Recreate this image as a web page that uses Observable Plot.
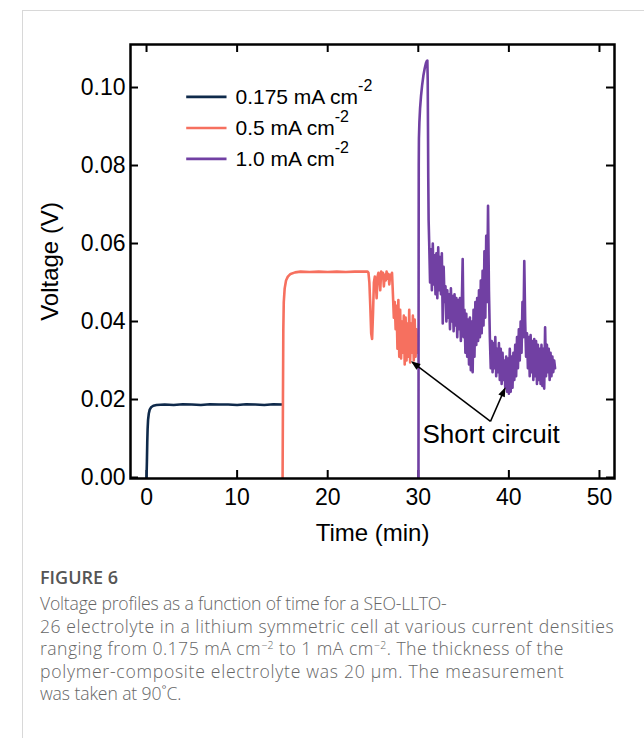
<!DOCTYPE html>
<html><head><meta charset="utf-8">
<script src="https://cdn.jsdelivr.net/npm/d3@7"></script>
<script src="https://cdn.jsdelivr.net/npm/@observablehq/plot@0.6"></script>
<style>
html,body{margin:0;padding:0;background:#fff;}
body{width:644px;height:738px;position:relative;overflow:hidden;font-family:"Liberation Sans",Arial,sans-serif;}
#card{position:absolute;left:22px;top:10px;width:700px;height:760px;border-left:1px solid #d8d8d8;border-top:1px solid #d8d8d8;}
#chart{position:absolute;left:0;top:0;}
#caption{position:absolute;left:40px;top:566px;font-family:"Open Sans",sans-serif;color:#666;white-space:nowrap;}
.fig{font-size:18px;font-weight:600;line-height:22px;margin-bottom:4px;color:#555;}
.txt{font-size:17.6px;line-height:22.5px;font-weight:300;}
.txt span{display:block;}
sup{font-size:10.5px;line-height:0;vertical-align:6px;}
</style></head><body>
<div id="card"></div>
<div id="chart"></div>
<div id="caption">
<div class="fig">FIGURE 6</div>
<div class="txt"><span style="letter-spacing:-0.2px">Voltage profiles as a function of time for a SEO-LLTO-</span><span style="letter-spacing:0.55px">26 electrolyte in a lithium symmetric cell at various current densities</span><span style="letter-spacing:0.47px">ranging from 0.175 mA cm<sup>−2</sup> to 1 mA cm<sup>−2</sup>. The thickness of the</span><span style="letter-spacing:0.72px">polymer-composite electrolyte was 20 µm. The measurement</span><span style="letter-spacing:-0.1px">was taken at 90˚C.</span></div>
</div>
<script>
const seriesNames = ["0.175 mA cm", "0.5 mA cm", "1.0 mA cm"];
const seriesColors = ["#0f2a4b", "#f6705f", "#7140a3"];
const xTicks = [0, 10, 20, 30, 40, 50];
const yTicks = [0, 0.02, 0.04, 0.06, 0.08, 0.10];

// 0.175 mA cm-2
const lowData = [[0,0],[0.04,0.004],[0.08,0.009],[0.12,0.0125],[0.17,0.0148],[0.25,0.0164],[0.35,0.0174],[0.5,0.018],[0.75,0.0184],[1.1,0.0186],[2,0.0187],[3,0.0186],[4,0.0188],[5,0.0187],[6,0.0186],[7,0.0188],[8,0.0187],[9,0.0187],[10,0.0186],[11,0.0188],[12,0.0187],[13,0.0186],[14,0.0188],[15,0.0187]];

// 0.5 mA cm-2
const midData = [[15.02,0],[15.06,0.02],[15.1,0.038],[15.15,0.045],[15.25,0.0485],[15.4,0.0505],[15.6,0.0515],[15.9,0.0522],[16.4,0.0526],[17,0.0528],[18,0.0527],[19,0.0528],[20,0.0527],[21,0.0528],[22,0.0527],[23,0.0528],[24.4,0.0528],
[24.5,0.0525],[24.6,0.050],[24.7,0.044],[24.8,0.037],[24.9,0.0355],[25.0,0.042],[25.1,0.050],[25.2,0.0515],[25.3,0.0505],[25.4,0.046],[25.5,0.0515],[25.6,0.0525],[25.7,0.051],[25.8,0.048],[25.9,0.0528],[26.0,0.0515],[26.1,0.0525],[26.2,0.049],[26.3,0.052],[26.4,0.0505],[26.5,0.0528],[26.6,0.051],[26.7,0.0522],[26.8,0.0495],[26.9,0.052],[27.0,0.0515],[27.1,0.0525],[27.2,0.047],[27.3,0.041],[27.4,0.045],[27.5,0.038],[27.6,0.044],[27.7,0.033],[27.8,0.0455],[27.9,0.031],[28.0,0.043],[28.1,0.0305],[28.2,0.040],[28.3,0.032],[28.4,0.0415],[28.5,0.029],[28.6,0.041],[28.7,0.030],[28.8,0.0395],[28.9,0.031],[29.0,0.043],[29.1,0.0295],[29.2,0.0395],[29.3,0.032],[29.4,0.0415],[29.5,0.030],[29.6,0.0405],[29.7,0.031],[29.8,0.038],[29.9,0.032]];

// 1.0 mA cm-2
const highData = [[30.02,0],[30.03,0.03],[30.04,0.06],[30.05,0.08],[30.07,0.087],[30.12,0.091],[30.2,0.0948],[30.3,0.0978],[30.42,0.1005],[30.56,0.1030],[30.7,0.1048],[30.84,0.1062],[30.94,0.1068],[31.0,0.1069],[31.04,0.102],[31.07,0.09],[31.1,0.077],[31.14,0.066],[31.2,0.0605],
[31.3,0.050],[31.4,0.0585],[31.5,0.048],[31.6,0.0600],[31.7,0.0495],[31.8,0.057],[31.9,0.047],[32.0,0.0575],[32.1,0.046],[32.2,0.059],[32.3,0.048],[32.4,0.0565],[32.5,0.047],[32.6,0.0575],[32.7,0.0395],[32.8,0.054],[32.9,0.045],[33.0,0.049],[33.1,0.040],[33.2,0.048],[33.3,0.041],[33.4,0.047],[33.5,0.038],[33.6,0.0485],[33.7,0.040],[33.8,0.0465],[33.9,0.0375],[34.0,0.047],[34.1,0.039],[34.2,0.046],[34.3,0.036],[34.4,0.0455],[34.5,0.038],[34.6,0.046],[34.7,0.035],[34.8,0.044],[34.9,0.056],[35.0,0.036],[35.1,0.043],[35.2,0.032],[35.3,0.042],[35.4,0.031],[35.5,0.0405],[35.6,0.029],[35.7,0.041],[35.8,0.0275],[35.9,0.040],[36.0,0.027],[36.1,0.043],[36.2,0.031],[36.3,0.045],[36.4,0.034],[36.5,0.046],[36.6,0.035],[36.7,0.048],[36.8,0.036],[36.9,0.0505],[37.0,0.037],[37.1,0.053],[37.2,0.039],[37.3,0.058],[37.4,0.041],[37.5,0.062],[37.6,0.045],[37.7,0.0697],[37.8,0.048],[37.9,0.036],[38.0,0.028],[38.1,0.035],[38.2,0.027],[38.3,0.0345],[38.4,0.028],[38.5,0.036],[38.6,0.026],[38.7,0.033],[38.8,0.027],[38.9,0.0345],[39.0,0.025],[39.1,0.033],[39.2,0.024],[39.3,0.032],[39.4,0.025],[39.5,0.030],[39.6,0.023],[39.7,0.031],[39.8,0.022],[39.9,0.0305],[40.0,0.0215],[40.1,0.033],[40.2,0.022],[40.3,0.031],[40.4,0.023],[40.5,0.032],[40.6,0.025],[40.7,0.034],[40.8,0.026],[40.9,0.036],[41.0,0.028],[41.1,0.038],[41.2,0.030],[41.3,0.040],[41.4,0.032],[41.5,0.045],[41.6,0.036],[41.7,0.0555],[41.8,0.040],[41.9,0.031],[42.0,0.037],[42.1,0.028],[42.2,0.036],[42.3,0.026],[42.4,0.0365],[42.5,0.027],[42.6,0.035],[42.7,0.025],[42.8,0.0355],[42.9,0.026],[43.0,0.035],[43.1,0.024],[43.2,0.034],[43.3,0.025],[43.4,0.033],[43.5,0.024],[43.6,0.034],[43.7,0.0235],[43.8,0.033],[43.9,0.0228],[44.0,0.0385],[44.1,0.026],[44.2,0.034],[44.3,0.027],[44.4,0.033],[44.5,0.025],[44.6,0.032],[44.7,0.026],[44.8,0.031],[44.9,0.027],[45.0,0.030],[45.1,0.028]];

// legend and annotation anchors (data units)
const legendV = [0.0976, 0.0896, 0.0817];
const legendLineT = [4.38, 8.83];
const legendTextT = 9.82;
const legendSup = "-2";
const arrowFrom = [37.97, 0.0144];
const arrowTips = [[29.33, 0.0296], [39.55, 0.0228]];
const noteText = "Short circuit";
const noteAt = [30.46, 0.0110];

const W = 644, H = 555, mL = 130, mR = 30, mT = 44, mB = 77;
const fw = W - mL - mR, fh = H - mT - mB, TL = 8;

const rows = [];
[lowData, midData, highData].forEach((arr, i) => arr.forEach(([t, v]) => rows.push({t, v, s: seriesNames[i]})));
const legendRows = seriesNames.map((s, i) => ({s, v: legendV[i]}));
const arrowRows = arrowTips.map(([t, v]) => ({x1: arrowFrom[0], y1: arrowFrom[1], x2: t, y2: v}));

const svg = Plot.plot({
  width: W, height: H,
  marginLeft: mL, marginRight: mR, marginTop: mT, marginBottom: mB,
  style: {fontFamily: '"Liberation Sans", Arial, sans-serif', background: "transparent", color: "#000", overflow: "visible"},
  x: {domain: [-1.77, 51.66]},
  y: {domain: [-0.000256, 0.11103]},
  color: {domain: seriesNames, range: seriesColors},
  marks: [
    Plot.frame({fill: "white", stroke: "none"}),
    Plot.axisX(xTicks, {tickSize: 0, tickPadding: 10, fontSize: 23, label: null, tickFormat: d => String(d)}),
    Plot.axisY(yTicks, {tickSize: 0, tickPadding: 5, fontSize: 23, label: null, tickFormat: d3.format(".2f")}),
    Plot.tickX(xTicks, {x: d => d, insetTop: fh - TL, stroke: "black", strokeWidth: 2}),
    Plot.tickX(xTicks, {x: d => d, insetBottom: fh - TL, stroke: "black", strokeWidth: 2}),
    Plot.tickY(yTicks, {y: d => d, insetRight: fw - TL, stroke: "black", strokeWidth: 2}),
    Plot.tickY(yTicks, {y: d => d, insetLeft: fw - TL, stroke: "black", strokeWidth: 2}),
    Plot.line(rows, {x: "t", y: "v", z: "s", stroke: "s", strokeWidth: 2.6, strokeLinejoin: "round"}),
    Plot.frame({stroke: "black", strokeWidth: 2.5}),
    Plot.text(["Time (min)"], {text: d => d, frameAnchor: "bottom", dy: 55, fontSize: 24, lineAnchor: "middle"}),
    Plot.text(["Voltage (V)"], {text: d => d, frameAnchor: "left", dx: -80, rotate: -90, fontSize: 24, lineAnchor: "middle", textAnchor: "middle"}),
    Plot.link(legendRows, {x1: legendLineT[0], x2: legendLineT[1], y1: "v", y2: "v", stroke: "s", strokeWidth: 2.6}),
    Plot.text(legendRows, {x: legendTextT, y: "v", text: "s", textAnchor: "start", lineAnchor: "middle", fontSize: 21}),
    Plot.link(arrowRows, {x1: "x1", y1: "y1", x2: "x2", y2: "y2", stroke: "black", strokeWidth: 1.5, markerEnd: "arrow"}),
    Plot.text([noteText], {text: d => d, x: noteAt[0], y: noteAt[1], textAnchor: "start", lineAnchor: "middle", fontSize: 26})
  ]
});

const ns = "http://www.w3.org/2000/svg";
svg.querySelectorAll("text").forEach(t => {
  if (seriesNames.includes(t.textContent)) {
    const ts = document.createElementNS(ns, "tspan");
    ts.setAttribute("dy", "-13");
    ts.setAttribute("font-size", "16");
    ts.textContent = legendSup;
    t.appendChild(ts);
  }
});
// filled arrowheads
svg.querySelectorAll("marker").forEach(m => {
  m.setAttribute("overflow", "visible");
  m.setAttribute("fill", "black");
  m.setAttribute("stroke", "none");
  const p = m.querySelector("path");
  if (p) p.setAttribute("d", "M-8,-3.5L1.5,0L-8,3.5Z");
});
document.getElementById("chart").appendChild(svg);
</script>
</body></html>
